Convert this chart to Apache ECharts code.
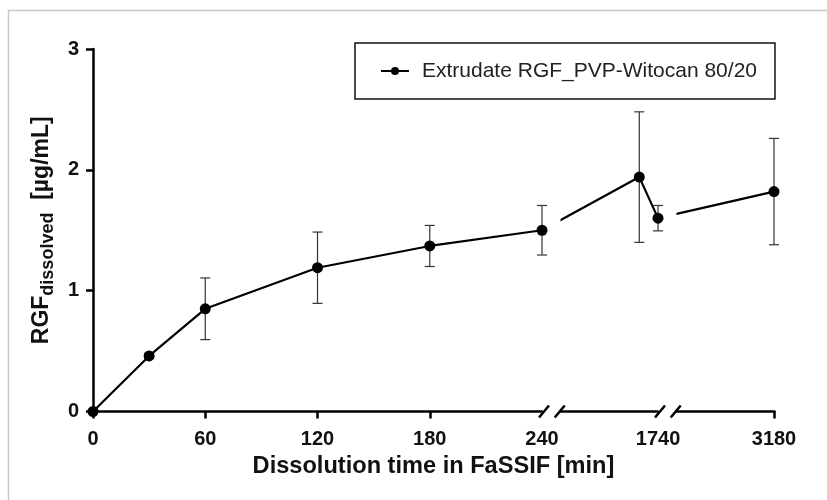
<!DOCTYPE html>
<html>
<head>
<meta charset="utf-8">
<script src="https://cdn.jsdelivr.net/npm/echarts@6/dist/echarts.min.js"></script>
<style>
  html, body { margin: 0; padding: 0; background: #fff; }
  #main { width: 827px; height: 500px; }
</style>
</head>
<body>
<div id="main"></div>
<script>
// data
var times = [0, 30, 60, 120, 180, 240, 1730, 1740, 3180];
var means = [0, 0.46, 0.85, 1.19, 1.37, 1.50, 1.94, 1.60, 1.82];
var sds = [0, 0.02, 0.255, 0.295, 0.17, 0.205, 0.54, 0.105, 0.44];
var xLabels = [0, 60, 120, 180, 240, 1740, 3180];
var xTicks = [0, 60, 120, 180, 3180];
var seriesName = 'Extrudate RGF_PVP-Witocan 80/20';

var font = 'Liberation Sans, Arial, Helvetica, sans-serif';

var pts = times.map(function (t, i) { return [t, means[i]]; });
var errs = [];
times.forEach(function (t, i) {
    if (sds[i] > 0) errs.push([t, means[i] - sds[i], means[i] + sds[i]]);
});

// error bars with caps
function renderErr(params, api) {
    var x = api.value(0);
    var lo = api.coord([x, api.value(1)]);
    var hi = api.coord([x, api.value(2)]);
    var w = 5;
    var st = { stroke: '#333', lineWidth: 1.2 };
    return {
        type: 'group',
        children: [
            { type: 'line', shape: { x1: lo[0], y1: lo[1], x2: hi[0], y2: hi[1] }, style: st },
            { type: 'line', shape: { x1: lo[0] - w, y1: lo[1], x2: lo[0] + w, y2: lo[1] }, style: st },
            { type: 'line', shape: { x1: hi[0] - w, y1: hi[1], x2: hi[0] + w, y2: hi[1] }, style: st }
        ]
    };
}

var myChart = echarts.init(document.getElementById('main'));

option = {
    animation: false,
    backgroundColor: '#fff',
    grid: { left: 93, right: 53, top: 49, bottom: 88.5 },
    legend: {
        left: 355,
        top: 43,
        z: 300,
        data: [seriesName],
        orient: 'horizontal',
        backgroundColor: '#fff',
        borderColor: '#111',
        borderWidth: 1.5,
        padding: [16, 18, 16, 25],
        itemWidth: 28,
        itemHeight: 10,
        textStyle: { fontFamily: font, fontSize: 21, color: '#222', lineHeight: 24, padding: [0, 0, 0, 8] }
    },
    xAxis: {
        type: 'value',
        min: 0,
        max: 3180,
        breaks: [
            { start: 240, end: 1688, gap: 10 },
            { start: 1740, end: 3128, gap: 10 }
        ],
        breakArea: {
            show: true,
            zigzagAmplitude: 0,
            itemStyle: { color: '#fff', borderWidth: 0, opacity: 1 }
        },
        breakLabelLayout: { moveOverlap: false },
        name: 'Dissolution time in FaSSIF [min]',
        nameLocation: 'middle',
        nameGap: 43,
        nameTextStyle: { fontFamily: font, fontSize: 23.6, fontWeight: 'bold', color: '#111' },
        axisLine: { lineStyle: { color: '#000', width: 2.5 } },
        axisTick: { customValues: xTicks, length: 7, lineStyle: { color: '#000', width: 2.5 } },
        axisLabel: {
            customValues: xLabels,
            margin: 18,
            formatter: function (v) { return String(v); },
            fontFamily: font, fontSize: 20, fontWeight: 'bold', color: '#111'
        },
        splitLine: { show: false }
    },
    yAxis: {
        type: 'value',
        min: 0,
        max: 3,
        interval: 1,
        name: '{m|RGF}{s|dissolved}{m|  [µg/mL]}',
        nameLocation: 'middle',
        nameRotate: 90,
        nameGap: 35,
        nameTextStyle: {
            fontFamily: font,
            color: '#111',
            rich: {
                m: { fontFamily: font, fontSize: 23, fontWeight: 'bold', color: '#111', lineHeight: 31, verticalAlign: 'middle' },
                s: { fontFamily: font, fontSize: 18, fontWeight: 'bold', color: '#111', lineHeight: 31, verticalAlign: 'bottom' }
            }
        },
        axisLine: { show: true, lineStyle: { color: '#000', width: 2.5 } },
        axisTick: { show: true, length: 7, lineStyle: { color: '#000', width: 2.5 } },
        axisLabel: { margin: 14, fontFamily: font, fontSize: 20, fontWeight: 'bold', color: '#111' },
        splitLine: { show: false }
    },
    series: [
        {
            // connecting line, cut by the axis breaks
            type: 'line',
            name: seriesName,
            data: pts,
            symbol: 'circle',
            symbolSize: 11,
            showSymbol: false,
            color: '#000',
            lineStyle: { color: '#000', width: 2.2 },
            itemStyle: { color: '#000' },
            z: 2
        },
        {
            type: 'custom',
            name: 'sd',
            renderItem: renderErr,
            encode: { x: 0, y: [1, 2] },
            data: errs,
            z: 200
        },
        {
            type: 'scatter',
            name: 'points',
            data: pts,
            symbol: 'circle',
            symbolSize: 11,
            itemStyle: { color: '#000', opacity: 1 },
            z: 201
        }
    ]
};
myChart.setOption(option);

// frame and "//" break marks on the x axis
var y0 = myChart.convertToPixel({ yAxisIndex: 0 }, 0);
var marks = [];
[[240, 1688], [1740, 3128]].forEach(function (b) {
    var xa = myChart.convertToPixel({ xAxisIndex: 0 }, b[0]);
    var xb = myChart.convertToPixel({ xAxisIndex: 0 }, b[1]);
    marks.push({ type: 'rect', shape: { x: xa + 1, y: y0 - 3, width: xb - xa - 2, height: 6 }, style: { fill: '#fff' }, z: 100 });
    [xa + 2, xb - 1].forEach(function (cx) {
        marks.push({ type: 'line', shape: { x1: cx - 5, y1: y0 + 6, x2: cx + 5, y2: y0 - 6 }, style: { stroke: '#000', lineWidth: 2.5 }, z: 101 });
    });
});
marks.push({ type: 'rect', shape: { x: 8.5, y: 10.5, width: 900, height: 600 }, style: { fill: null, stroke: '#c8c8c8', lineWidth: 1.5 }, z: -1 });
myChart.setOption({ graphic: marks });
</script>
</body>
</html>
